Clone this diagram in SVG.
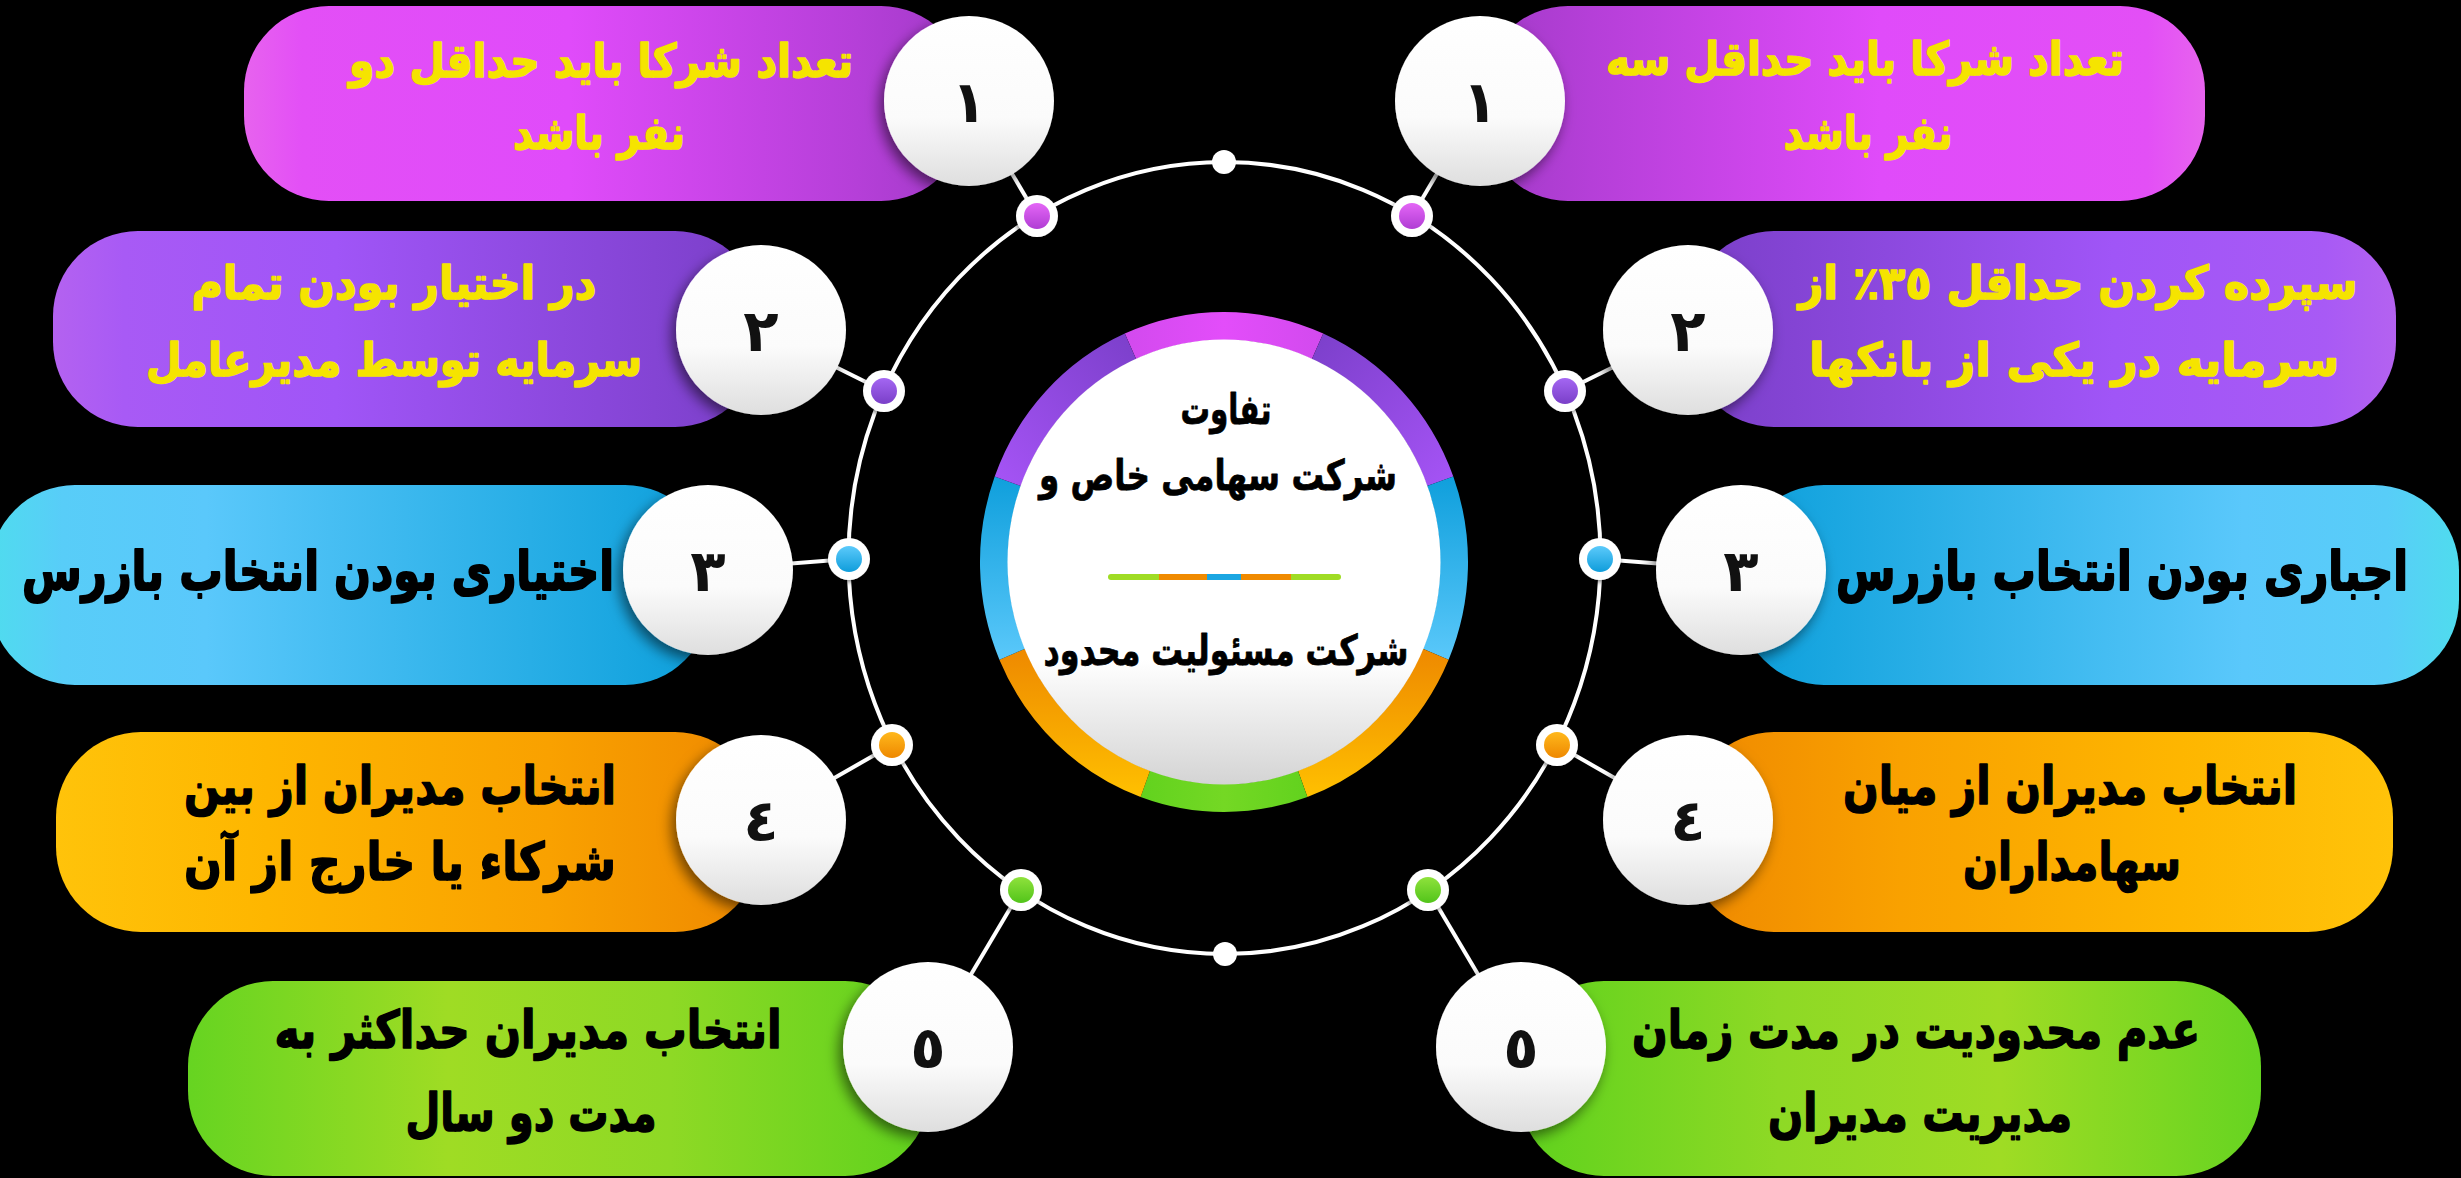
<svg xmlns="http://www.w3.org/2000/svg" width="2461" height="1178" viewBox="0 0 2461 1178">
<style>
.t{font-family:'DejaVu Sans','Noto Sans',sans-serif;font-weight:bold;text-anchor:middle;direction:rtl;stroke-linejoin:round}
.y{fill:#f5e400;stroke:#f5e400;stroke-width:1.6px}
.k{fill:#000;stroke:#000;stroke-width:1.6px}
.c{fill:#000;stroke:#000;stroke-width:0.8px}
.num{font-family:'DejaVu Sans','Noto Sans',sans-serif;font-weight:bold;text-anchor:middle;font-size:58px;fill:#111}
.bub{fill:url(#gBub);filter:url(#sh)}
.ln{stroke:#fff;stroke-width:4;fill:none}
.dot{fill:#fff;filter:url(#sh2)}
</style>
<defs>
<filter id="sh" x="-30%" y="-30%" width="160%" height="160%"><feDropShadow dx="-4" dy="6" stdDeviation="7" flood-color="#000" flood-opacity="0.55"/></filter>
<filter id="sh2" x="-50%" y="-50%" width="200%" height="200%"><feDropShadow dx="-1" dy="2" stdDeviation="2" flood-color="#000" flood-opacity="0.5"/></filter>
<linearGradient id="gBub" x1="0" y1="0" x2="0" y2="1"><stop offset="0" stop-color="#ffffff"/><stop offset="0.6" stop-color="#fbfbfb"/><stop offset="1" stop-color="#dedede"/></linearGradient>
<linearGradient id="gCen" x1="0" y1="0" x2="0" y2="1"><stop offset="0" stop-color="#ffffff"/><stop offset="0.72" stop-color="#ffffff"/><stop offset="1" stop-color="#d4d4d4"/></linearGradient>
<linearGradient id="gL1" x1="0" y1="0" x2="1" y2="0"><stop offset="0" stop-color="#e763ee"/><stop offset="0.08" stop-color="#e34ff6"/><stop offset="0.45" stop-color="#e04bfa"/><stop offset="0.85" stop-color="#b53fd8"/><stop offset="1" stop-color="#a23ac8"/></linearGradient>
<linearGradient id="gR1" href="#gL1" x1="1" x2="0"/>
<linearGradient id="gL2" x1="0" y1="0" x2="1" y2="0"><stop offset="0" stop-color="#b462f0"/><stop offset="0.1" stop-color="#a85af5"/><stop offset="0.4" stop-color="#a055f7"/><stop offset="0.85" stop-color="#8444d4"/><stop offset="1" stop-color="#7a3fc8"/></linearGradient>
<linearGradient id="gR2" href="#gL2" x1="1" x2="0"/>
<linearGradient id="gL3" x1="0" y1="0" x2="1" y2="0"><stop offset="0" stop-color="#4fdcee"/><stop offset="0.1" stop-color="#58cdf8"/><stop offset="0.3" stop-color="#5ac8fb"/><stop offset="0.75" stop-color="#28aee6"/><stop offset="1" stop-color="#0c9fdb"/></linearGradient>
<linearGradient id="gR3" href="#gL3" x1="1" x2="0"/>
<linearGradient id="gL4" x1="0" y1="0" x2="1" y2="0"><stop offset="0" stop-color="#ffc30a"/><stop offset="0.3" stop-color="#feb600"/><stop offset="0.7" stop-color="#f9a100"/><stop offset="1" stop-color="#ef8900"/></linearGradient>
<linearGradient id="gR4" href="#gL4" x1="1" x2="0"/>
<linearGradient id="gL5" x1="0" y1="0" x2="1" y2="0"><stop offset="0" stop-color="#66d421"/><stop offset="0.35" stop-color="#9fdc24"/><stop offset="0.65" stop-color="#8ed925"/><stop offset="1" stop-color="#5fd21d"/></linearGradient>
<linearGradient id="gR5" href="#gL5" x1="1" x2="0"/>
<linearGradient id="dM" x1="0" y1="0" x2="0" y2="1"><stop offset="0" stop-color="#e466f6"/><stop offset="1" stop-color="#b03dd4"/></linearGradient>
<linearGradient id="dP" x1="0" y1="0" x2="0" y2="1"><stop offset="0" stop-color="#a466f2"/><stop offset="1" stop-color="#7a3fc8"/></linearGradient>
<linearGradient id="dB" x1="0" y1="0" x2="0" y2="1"><stop offset="0" stop-color="#5ccafb"/><stop offset="1" stop-color="#0f9ddb"/></linearGradient>
<linearGradient id="dO" x1="0" y1="0" x2="0" y2="1"><stop offset="0" stop-color="#ffb81c"/><stop offset="1" stop-color="#ee8800"/></linearGradient>
<linearGradient id="dG" x1="0" y1="0" x2="0" y2="1"><stop offset="0" stop-color="#8fe23c"/><stop offset="1" stop-color="#52c41a"/></linearGradient>
<linearGradient id="rM" x1="0" y1="0" x2="1" y2="0"><stop offset="0" stop-color="#d24aee"/><stop offset="0.5" stop-color="#e34dfa"/><stop offset="1" stop-color="#d24aee"/></linearGradient>
<linearGradient id="rPL" x1="1" y1="0" x2="0" y2="1"><stop offset="0" stop-color="#7b3fca"/><stop offset="1" stop-color="#a654f6"/></linearGradient>
<linearGradient id="rPR" x1="0" y1="0" x2="1" y2="1"><stop offset="0" stop-color="#7b3fca"/><stop offset="1" stop-color="#a654f6"/></linearGradient>
<linearGradient id="rB" x1="0" y1="0" x2="0" y2="1"><stop offset="0" stop-color="#0f9fdc"/><stop offset="1" stop-color="#5ac8fa"/></linearGradient>
<linearGradient id="rO" x1="0" y1="0" x2="0" y2="1"><stop offset="0" stop-color="#ee8900"/><stop offset="1" stop-color="#ffc000"/></linearGradient>
<linearGradient id="rG" x1="0" y1="0" x2="1" y2="0"><stop offset="0" stop-color="#62d21e"/><stop offset="0.5" stop-color="#74d824"/><stop offset="1" stop-color="#62d21e"/></linearGradient>
</defs>
<rect x="0" y="0" width="2461" height="1178" fill="#000"/>

<g id="connectors">
<ellipse class="ln" cx="1224.5" cy="558" rx="376" ry="396"/>
<line class="ln" x1="969" y1="101" x2="1037" y2="216"/>
<line class="ln" x1="761" y1="330" x2="884" y2="391"/>
<line class="ln" x1="708" y1="570" x2="849" y2="559"/>
<line class="ln" x1="761" y1="820" x2="892" y2="745"/>
<line class="ln" x1="928" y1="1047" x2="1021" y2="890"/>
<line class="ln" x1="1480" y1="101" x2="1412" y2="216"/>
<line class="ln" x1="1688" y1="330" x2="1565" y2="391"/>
<line class="ln" x1="1741" y1="570" x2="1600" y2="559"/>
<line class="ln" x1="1688" y1="820" x2="1557" y2="745"/>
<line class="ln" x1="1521" y1="1047" x2="1428" y2="890"/>
<circle cx="1224" cy="162" r="12" fill="#fff"/>
<circle cx="1225" cy="954" r="12" fill="#fff"/>
<circle class="dot" cx="1037" cy="216" r="21"/><circle cx="1037" cy="216" r="13" fill="url(#dM)"/>
<circle class="dot" cx="884" cy="391" r="21"/><circle cx="884" cy="391" r="13" fill="url(#dP)"/>
<circle class="dot" cx="849" cy="559" r="21"/><circle cx="849" cy="559" r="13" fill="url(#dB)"/>
<circle class="dot" cx="892" cy="745" r="21"/><circle cx="892" cy="745" r="13" fill="url(#dO)"/>
<circle class="dot" cx="1021" cy="890" r="21"/><circle cx="1021" cy="890" r="13" fill="url(#dG)"/>
<circle class="dot" cx="1412" cy="216" r="21"/><circle cx="1412" cy="216" r="13" fill="url(#dM)"/>
<circle class="dot" cx="1565" cy="391" r="21"/><circle cx="1565" cy="391" r="13" fill="url(#dP)"/>
<circle class="dot" cx="1600" cy="559" r="21"/><circle cx="1600" cy="559" r="13" fill="url(#dB)"/>
<circle class="dot" cx="1557" cy="745" r="21"/><circle cx="1557" cy="745" r="13" fill="url(#dO)"/>
<circle class="dot" cx="1428" cy="890" r="21"/><circle cx="1428" cy="890" r="13" fill="url(#dG)"/>
</g>

<g id="center">
<path d="M1124.8 333.6 A244 250 0 0 1 1323.2 333.6 L1311.8 359.2 A216 222 0 0 0 1136.2 359.2 Z" fill="url(#rM)"/>
<path d="M1323.2 333.6 A244 250 0 0 1 1453.3 476.5 L1427 486.1 A216 222 0 0 0 1311.8 359.2 Z" fill="url(#rPR)"/>
<path d="M1453.3 476.5 A244 250 0 0 1 1448.6 659.7 L1422.8 648.7 A216 222 0 0 0 1427 486.1 Z" fill="url(#rB)"/>
<path d="M1448.6 659.7 A244 250 0 0 1 1307.4 796.9 L1297.9 770.6 A216 222 0 0 0 1422.8 648.7 Z" fill="url(#rO)"/>
<path d="M1307.4 796.9 A244 250 0 0 1 1140.6 796.9 L1150.1 770.6 A216 222 0 0 0 1297.9 770.6 Z" fill="url(#rG)"/>
<path d="M1140.6 796.9 A244 250 0 0 1 999.4 659.7 L1025.2 648.7 A216 222 0 0 0 1150.1 770.6 Z" fill="url(#rO)"/>
<path d="M999.4 659.7 A244 250 0 0 1 994.7 476.5 L1021 486.1 A216 222 0 0 0 1025.2 648.7 Z" fill="url(#rB)"/>
<path d="M994.7 476.5 A244 250 0 0 1 1124.8 333.6 L1136.2 359.2 A216 222 0 0 0 1021 486.1 Z" fill="url(#rPL)"/>
<ellipse cx="1224" cy="562" rx="216.5" ry="222.5" fill="url(#gCen)"/>
<text class="t c" x="1226" y="424" font-size="42" textLength="91" lengthAdjust="spacingAndGlyphs">تفاوت</text>
<text class="t c" x="1218" y="490" font-size="42" textLength="358" lengthAdjust="spacingAndGlyphs">شرکت سهامی خاص و</text>
<g stroke-width="6" stroke-linecap="round">
<line x1="1111" y1="577" x2="1159" y2="577" stroke="#9fdc24"/>
<line x1="1291" y1="577" x2="1338" y2="577" stroke="#9fdc24"/>
<line x1="1159" y1="577" x2="1207" y2="577" stroke="#f08a00" stroke-linecap="butt"/>
<line x1="1241" y1="577" x2="1291" y2="577" stroke="#f08a00" stroke-linecap="butt"/>
<line x1="1207" y1="577" x2="1241" y2="577" stroke="#1ba6e2" stroke-linecap="butt"/>
</g>
<text class="t c" x="1226" y="665" font-size="42" textLength="365" lengthAdjust="spacingAndGlyphs">شرکت مسئولیت محدود</text>
</g>

<g id="left-1">
<rect x="244" y="6" width="722" height="195" rx="85" fill="url(#gL1)"/>
<text class="t y" x="601" y="77" font-size="46" textLength="504" lengthAdjust="spacingAndGlyphs">تعداد شرکا باید حداقل دو</text>
<text class="t y" x="599" y="149" font-size="46" textLength="172" lengthAdjust="spacingAndGlyphs">نفر باشد</text>
<circle class="bub" cx="969" cy="101" r="85"/>
<text class="num" x="969" y="122">١</text>
</g>
<g id="left-2">
<rect x="53" y="231" width="707" height="196" rx="85" fill="url(#gL2)"/>
<text class="t y" x="394" y="299" font-size="46" textLength="405" lengthAdjust="spacingAndGlyphs">در اختیار بودن تمام</text>
<text class="t y" x="394" y="376" font-size="46" textLength="496" lengthAdjust="spacingAndGlyphs">سرمایه توسط مدیرعامل</text>
<circle class="bub" cx="761" cy="330" r="85"/>
<text class="num" x="761" y="351">٢</text>
</g>
<g id="left-3">
<rect x="-10" y="485" width="720" height="200" rx="85" fill="url(#gL3)"/>
<text class="t k" transform="translate(318 590) scale(1 1.3)" x="0" y="0" font-size="42" textLength="592" lengthAdjust="spacingAndGlyphs">اختیاری بودن انتخاب بازرس</text>
<circle class="bub" cx="708" cy="570" r="85"/>
<text class="num" x="708" y="591">٣</text>
</g>
<g id="left-4">
<rect x="56" y="732" width="704" height="200" rx="85" fill="url(#gL4)"/>
<text class="t k" x="400" y="804" font-size="52" textLength="432" lengthAdjust="spacingAndGlyphs">انتخاب مدیران از بین</text>
<text class="t k" x="400" y="880" font-size="52" textLength="432" lengthAdjust="spacingAndGlyphs">شرکاء یا خارج از آن</text>
<circle class="bub" cx="761" cy="820" r="85"/>
<text class="num" x="761" y="841">٤</text>
</g>
<g id="left-5">
<rect x="188" y="981" width="742" height="195" rx="85" fill="url(#gL5)"/>
<text class="t k" x="528" y="1048" font-size="52" textLength="507" lengthAdjust="spacingAndGlyphs">انتخاب مدیران حداکثر به</text>
<text class="t k" x="531" y="1131" font-size="52" textLength="251" lengthAdjust="spacingAndGlyphs">مدت دو سال</text>
<circle class="bub" cx="928" cy="1047" r="85"/>
<text class="num" x="928" y="1068">٥</text>
</g>

<g id="right-1">
<rect x="1483" y="6" width="722" height="195" rx="85" fill="url(#gR1)"/>
<text class="t y" x="1865" y="75" font-size="46" textLength="518" lengthAdjust="spacingAndGlyphs">تعداد شرکا باید حداقل سه</text>
<text class="t y" x="1868" y="149" font-size="46" textLength="169" lengthAdjust="spacingAndGlyphs">نفر باشد</text>
<circle class="bub" cx="1480" cy="101" r="85"/>
<text class="num" x="1480" y="122">١</text>
</g>
<g id="right-2">
<rect x="1689" y="231" width="707" height="196" rx="85" fill="url(#gR2)"/>
<text class="t y" x="2078" y="299" font-size="46" textLength="559" lengthAdjust="spacingAndGlyphs">سپرده کردن حداقل ٣٥٪ از</text>
<text class="t y" x="2074" y="376" font-size="46" textLength="530" lengthAdjust="spacingAndGlyphs">سرمایه در یکی از بانکها</text>
<circle class="bub" cx="1688" cy="330" r="85"/>
<text class="num" x="1688" y="351">٢</text>
</g>
<g id="right-3">
<rect x="1739" y="485" width="720" height="200" rx="85" fill="url(#gR3)"/>
<text class="t k" transform="translate(2122 590) scale(1 1.3)" x="0" y="0" font-size="42" textLength="572" lengthAdjust="spacingAndGlyphs">اجباری بودن انتخاب بازرس</text>
<circle class="bub" cx="1741" cy="570" r="85"/>
<text class="num" x="1741" y="591">٣</text>
</g>
<g id="right-4">
<rect x="1689" y="732" width="704" height="200" rx="85" fill="url(#gR4)"/>
<text class="t k" x="2070" y="804" font-size="52" textLength="454" lengthAdjust="spacingAndGlyphs">انتخاب مدیران از میان</text>
<text class="t k" x="2072" y="880" font-size="52" textLength="218" lengthAdjust="spacingAndGlyphs">سهامداران</text>
<circle class="bub" cx="1688" cy="820" r="85"/>
<text class="num" x="1688" y="841">٤</text>
</g>
<g id="right-5">
<rect x="1519" y="981" width="742" height="195" rx="85" fill="url(#gR5)"/>
<text class="t k" x="1916" y="1048" font-size="52" textLength="568" lengthAdjust="spacingAndGlyphs">عدم محدودیت در مدت زمان</text>
<text class="t k" x="1920" y="1131" font-size="52" textLength="304" lengthAdjust="spacingAndGlyphs">مدیریت مدیران</text>
<circle class="bub" cx="1521" cy="1047" r="85"/>
<text class="num" x="1521" y="1068">٥</text>
</g>
</svg>
